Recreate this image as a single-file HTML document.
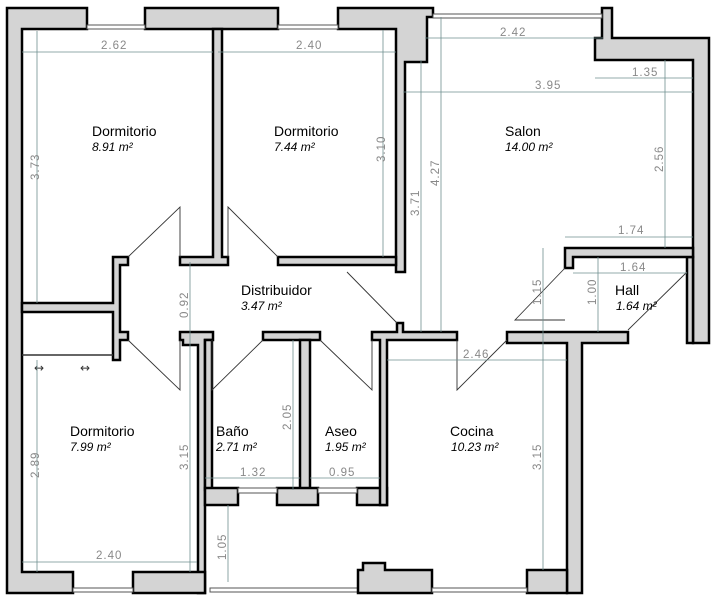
<!DOCTYPE html>
<html><head><meta charset="utf-8"><style>
html,body{margin:0;padding:0;background:#fff;}
svg{display:block;}
.w{fill:#d4d4d4;stroke:#000;stroke-width:2.5;}
.d{stroke:#6f8f8f;stroke-width:0.8;fill:none;}
.dt{font-family:"Liberation Sans",sans-serif;font-size:11.5px;fill:#888;letter-spacing:1px;}
.n{font-family:"Liberation Sans",sans-serif;font-size:14px;fill:#000;}
.a{font-family:"Liberation Sans",sans-serif;font-size:12px;font-style:italic;fill:#000;}
.dr{stroke:#333;stroke-width:0.9;fill:none;}
.win{fill:#fff;stroke:#555;stroke-width:1;}
</style></head><body>
<svg width="719" height="600" viewBox="0 0 719 600" xmlns="http://www.w3.org/2000/svg">
<path class="w" d="M7,8 H87 V29 H22 V572 H73 V593 H7 Z"/>
<rect class="w" x="145" y="8" width="133" height="21"/>
<path class="w" d="M338,8 H433 V17 H427 V62 H405 V272 H396 V29 H338 Z"/>
<path class="w" d="M602,8 H612 V38 H709 V343 H693 V60 H595 V38 H602 Z"/>
<path class="w" d="M687,257 H693 V343 H687 Z"/>
<rect class="win" x="87" y="25" width="58" height="4"/>
<rect class="win" x="278" y="25" width="60" height="4"/>
<rect class="win" x="433" y="14" width="169" height="4"/>
<path class="w" d="M213,29 H222 V257 H228 V265 H180 V257 H213 Z"/>
<path class="w" d="M278,257 H396 V265 H278 Z"/>
<path class="w" d="M113,257 H128 V265 H120 V332 H128 V340 H120 V360 H113 V312 H22 V303 H113 Z"/>
<path class="w" d="M565,248 H693 V257 H573 V268 H565 Z"/>
<line x1="22" y1="355" x2="113" y2="355" stroke="#333" stroke-width="1.5"/>
<text x="34" y="372" font-size="12" font-family="DejaVu Sans" fill="#333">↔</text>
<text x="80" y="372" font-size="12" font-family="DejaVu Sans" fill="#333">↔</text>
<path class="w" d="M180,332 H213 V340 H205 V593 H198 V345 H183 V340 H180 Z"/>
<rect class="w" x="263" y="332" width="57" height="8"/>
<rect class="w" x="300" y="340" width="10" height="150"/>
<rect class="w" x="205" y="340" width="7" height="150"/>
<path class="w" d="M205,488 H238 V505 H205 Z"/>
<path class="w" d="M277,488 H318 V505 H277 Z"/>
<path class="w" d="M357,488 H387 V505 H357 Z"/>
<rect class="win" x="238" y="488" width="39" height="5"/>
<rect class="win" x="318" y="488" width="39" height="5"/>
<path class="w" d="M372,332 H397 V323 H403 V332 H457 V340 H387 V505 H380 V340 H372 Z"/>
<path class="w" d="M507,332 H628 V343 H582 V593 H567 V343 H507 Z"/>
<path class="w" d="M133,572 H205 V593 H133 Z"/>
<rect class="win" x="73" y="588" width="60" height="4"/>
<rect class="win" x="210" y="588" width="148" height="4"/>
<path class="w" d="M358,593 V570 H363 V563 H385 V570 H432 V593 Z"/>
<path class="w" d="M527,570 H567 V593 H527 Z"/>
<rect class="win" x="432" y="588" width="95" height="4"/>
<polyline class="dr" points="128,257 180,207 180,257"/>
<polyline class="dr" points="278,257 228,207 228,257"/>
<polyline class="dr" points="347,272 397,323"/>
<polyline class="dr" points="128,340 180,390 180,340"/>
<polyline class="dr" points="263,340 212,390 212,340"/>
<polyline class="dr" points="320,340 372,390 372,340"/>
<polyline class="dr" points="507,340 457,390 457,340"/>
<polyline class="dr" points="565,268 515,320 565,320"/>
<polyline class="dr" points="687,272 628,330"/>
<g class="d">
<line x1="22" y1="52" x2="213" y2="52"/><line x1="218" y1="52" x2="396" y2="52"/>
<line x1="425" y1="38" x2="603" y2="38"/><line x1="595" y1="78" x2="693" y2="78"/>
<line x1="403" y1="92" x2="693" y2="92"/><line x1="565" y1="237" x2="693" y2="237"/>
<line x1="573" y1="273" x2="687" y2="273"/><line x1="387" y1="360" x2="567" y2="360"/>
<line x1="205" y1="478" x2="300" y2="478"/><line x1="310" y1="478" x2="380" y2="478"/>
<line x1="22" y1="562" x2="197" y2="562"/>
<line x1="37" y1="31" x2="37" y2="303"/><line x1="383" y1="30" x2="383" y2="257"/>
<line x1="421" y1="60" x2="421" y2="332"/><line x1="441" y1="17" x2="441" y2="332"/>
<line x1="665" y1="60" x2="665" y2="248"/><line x1="543" y1="248" x2="543" y2="570"/>
<line x1="598" y1="257" x2="598" y2="332"/><line x1="190" y1="262" x2="190" y2="572"/>
<line x1="293" y1="340" x2="293" y2="490"/><line x1="37" y1="360" x2="37" y2="572"/>
<line x1="228" y1="505" x2="228" y2="582"/>
</g>
<g class="dt">
<text x="101" y="49">2.62</text><text x="296" y="49">2.40</text>
<text x="500" y="36">2.42</text><text x="632" y="76">1.35</text>
<text x="535" y="89">3.95</text><text x="618" y="234">1.74</text>
<text x="620" y="271">1.64</text><text x="463" y="358">2.46</text>
<text x="240" y="476">1.32</text><text x="329" y="476">0.95</text>
<text x="96" y="559">2.40</text>
<text transform="translate(39,180) rotate(-90)">3.73</text>
<text transform="translate(385,162) rotate(-90)">3.10</text>
<text transform="translate(419,216) rotate(-90)">3.71</text>
<text transform="translate(439,186) rotate(-90)">4.27</text>
<text transform="translate(663,172) rotate(-90)">2.56</text>
<text transform="translate(541,305) rotate(-90)">1.15</text>
<text transform="translate(596,305) rotate(-90)">1.00</text>
<text transform="translate(188,318) rotate(-90)">0.92</text>
<text transform="translate(291,430) rotate(-90)">2.05</text>
<text transform="translate(39,478) rotate(-90)">2.89</text>
<text transform="translate(188,470) rotate(-90)">3.15</text>
<text transform="translate(541,470) rotate(-90)">3.15</text>
<text transform="translate(226,560) rotate(-90)">1.05</text>
</g>
<text class="n" x="92" y="136">Dormitorio</text><text class="a" x="92" y="151">8.91 m²</text>
<text class="n" x="274" y="136">Dormitorio</text><text class="a" x="274" y="151">7.44 m²</text>
<text class="n" x="505" y="136">Salon</text><text class="a" x="505" y="151">14.00 m²</text>
<text class="n" x="241" y="295">Distribuidor</text><text class="a" x="241" y="310">3.47 m²</text>
<text class="n" x="615" y="295">Hall</text><text class="a" x="616" y="310">1.64 m²</text>
<text class="n" x="70" y="436">Dormitorio</text><text class="a" x="70" y="451">7.99 m²</text>
<text class="n" x="216" y="436">Baño</text><text class="a" x="216" y="451">2.71 m²</text>
<text class="n" x="325" y="436">Aseo</text><text class="a" x="325" y="451">1.95 m²</text>
<text class="n" x="450" y="436">Cocina</text><text class="a" x="451" y="451">10.23 m²</text>
</svg>
</body></html>
